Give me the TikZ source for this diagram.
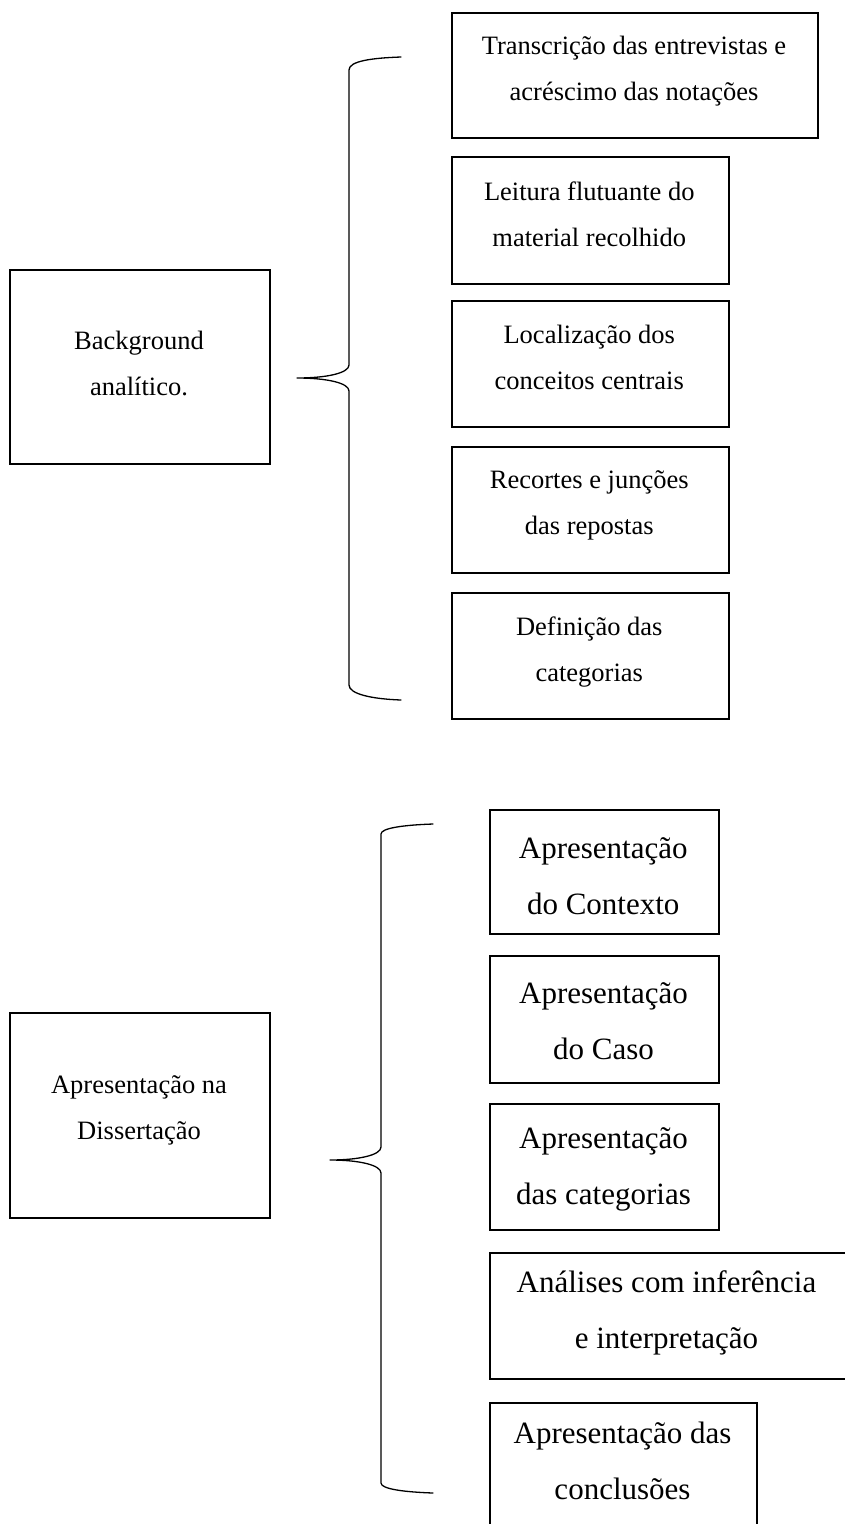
\documentclass[tikz,border=0pt]{standalone}
\usepackage{fontspec}
\setmainfont{Liberation Serif}
\newcommand{\firstline}{\rule{0pt}{32pt}}
\begin{document}
\begin{tikzpicture}[x=1pt,y=-1pt,
  box/.style={draw, line width=2.3pt, inner sep=0pt, anchor=north west},
  smalltxt/.style={font=\fontsize{26.5pt}{46pt}\selectfont, align=center, inner sep=0pt, anchor=north},
  largetxt/.style={font=\fontsize{31pt}{56pt}\selectfont, align=center, inner sep=0pt, anchor=north},
  brace/.style={line width=1.3pt, line join=round, line cap=round},
]
\useasboundingbox (0,0) rectangle (845,1524);
\clip (0,0) rectangle (845,1524);

% ---------- upper block: analytic background ----------
\node[box, minimum width=260pt, minimum height=194pt] (bg) at (9,269) {};
\node[smalltxt] (bgtxt) at (139,317) {\firstline Background\\analítico.};

\node[box, minimum width=366pt, minimum height=125pt] (s1) at (451,12) {};
\node[smalltxt] (s1txt) at (634,22) {\firstline Transcrição das entrevistas e\\acréscimo das notações};

\node[box, minimum width=276.5pt, minimum height=127pt] (s2) at (451,156) {};
\node[smalltxt] (s2txt) at (589.25,168) {\firstline Leitura flutuante do\\material recolhido};

\node[box, minimum width=276.5pt, minimum height=126pt] (s3) at (451,300) {};
\node[smalltxt] (s3txt) at (589.25,311) {\firstline Localização dos\\conceitos centrais};

\node[box, minimum width=276.5pt, minimum height=126pt] (s4) at (451,446) {};
\node[smalltxt] (s4txt) at (589.25,456) {\firstline Recortes e junções\\das repostas};

\node[box, minimum width=276.5pt, minimum height=126pt] (s5) at (451,592) {};
\node[smalltxt] (s5txt) at (589.25,603) {\firstline Definição das\\categorias};

% upper brace
\coordinate (ua) at (401,57);
\coordinate (uc) at (297,378);
\coordinate (ub) at (401,700);
\draw[brace] (ua) .. controls (372,58) and (349,61) .. (349,70)
  -- (349,365) .. controls (349,373) and (327,378) .. (uc)
  .. controls (327,378) and (349,383) .. (349,391)
  -- (349,685) .. controls (349,694) and (372,699) .. (ub);

% ---------- lower block: presentation in the dissertation ----------
\node[box, minimum width=260pt, minimum height=205pt] (ap) at (9,1012) {};
\node[smalltxt] (aptxt) at (139,1061) {\firstline Apresentação na\\Dissertação};

\node[box, minimum width=228.5pt, minimum height=124pt] (p1) at (489,809) {};
\node[largetxt] (p1txt) at (603.25,826) {\firstline Apresentação\\do Contexto};

\node[box, minimum width=229pt, minimum height=127pt] (p2) at (489,955) {};
\node[largetxt] (p2txt) at (603.5,971) {\firstline Apresentação\\do Caso};

\node[box, minimum width=229pt, minimum height=126pt] (p3) at (489,1103) {};
\node[largetxt] (p3txt) at (603.5,1116) {\firstline Apresentação\\das categorias};

\node[box, minimum width=358pt, minimum height=126pt] (p4) at (489,1252) {};
\node[largetxt] (p4txt) at (666.5,1260) {\firstline Análises com inferência\\e interpretação};

\node[box, minimum width=267pt, minimum height=130pt] (p5) at (489,1402) {};
\node[largetxt] (p5txt) at (622.5,1411) {\firstline Apresentação das\\conclusões};

% lower brace
\coordinate (la) at (433,824);
\coordinate (lc) at (330,1160);
\coordinate (lb) at (433,1493);
\draw[brace] (la) .. controls (404,825) and (381,828) .. (381,834)
  -- (381,1147) .. controls (381,1155) and (359,1160) .. (lc)
  .. controls (359,1160) and (381,1165) .. (381,1173)
  -- (381,1483) .. controls (381,1489) and (404,1492) .. (lb);
\end{tikzpicture}
\end{document}
